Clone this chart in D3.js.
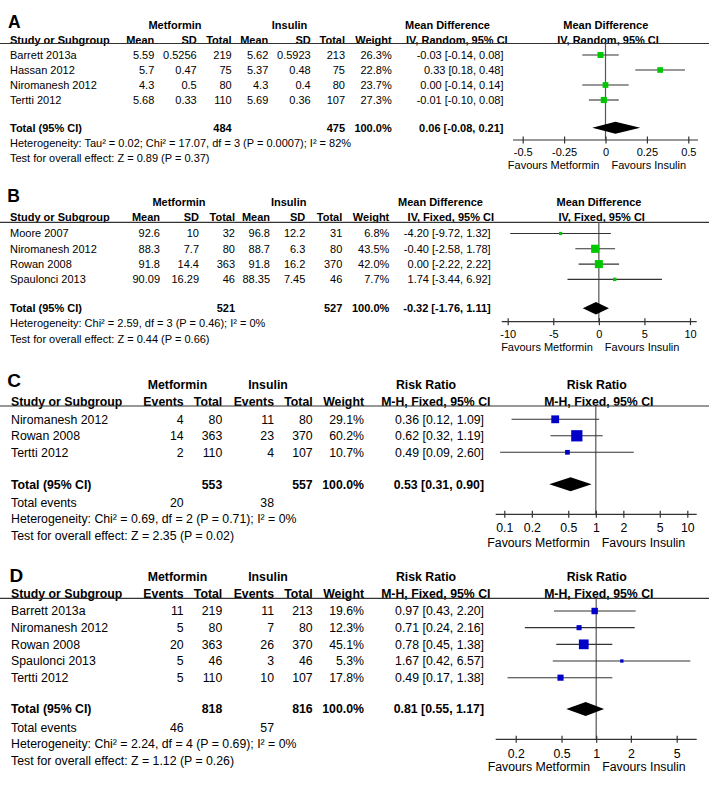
<!DOCTYPE html>
<html><head><meta charset="utf-8">
<script src="https://cdn.jsdelivr.net/npm/d3@7"></script>
<style>body{margin:0;background:#fff}svg{display:block}text{font-family:"Liberation Sans",Arial,sans-serif;fill:#000}</style>
</head><body><svg id="c" width="709" height="804"></svg>
<script>
// ---------- DATA ----------
// Panel A
const aStudies = ["Barrett 2013a","Hassan 2012","Niromanesh 2012","Tertti 2012"];
const aMetMean = [5.59,5.7,4.3,5.68];
const aMetSD   = [0.5256,0.47,0.5,0.33];
const aMetN    = [219,75,80,110];
const aInsMean = [5.62,5.37,4.3,5.69];
const aInsSD   = [0.5923,0.48,0.4,0.36];
const aInsN    = [213,75,80,107];
const aWeight  = [26.3,22.8,23.7,27.3];
const aEst     = [-0.03,0.33,0.00,-0.01];
const aLo      = [-0.14,0.18,-0.14,-0.10];
const aHi      = [0.08,0.48,0.14,0.08];
const aTotalN  = [484,475];
const aPooled  = [0.06,-0.08,0.21];
const aTicks   = [-0.5,-0.25,0,0.25,0.5];
const aTickLabels = ["-0.5","-0.25","0","0.25","0.5"];
const aHet  = "Heterogeneity: Tau² = 0.02; Chi² = 17.07, df = 3 (P = 0.0007); I² = 82%";
const aTest = "Test for overall effect: Z = 0.89 (P = 0.37)";
// Panel B
const bStudies = ["Moore 2007","Niromanesh 2012","Rowan 2008","Spaulonci 2013"];
const bMetMean = [92.6,88.3,91.8,90.09];
const bMetSD   = [10,7.7,14.4,16.29];
const bMetN    = [32,80,363,46];
const bInsMean = [96.8,88.7,91.8,88.35];
const bInsSD   = [12.2,6.3,16.2,7.45];
const bInsN    = [31,80,370,46];
const bWeight  = [6.8,43.5,42.0,7.7];
const bEst     = [-4.20,-0.40,0.00,1.74];
const bLo      = [-9.72,-2.58,-2.22,-3.44];
const bHi      = [1.32,1.78,2.22,6.92];
const bTotalN  = [521,527];
const bPooled  = [-0.32,-1.76,1.11];
const bTicks   = [-10,-5,0,5,10];
const bTickLabels = ["-10","-5","0","5","10"];
const bHet  = "Heterogeneity: Chi² = 2.59, df = 3 (P = 0.46); I² = 0%";
const bTest = "Test for overall effect: Z = 0.44 (P = 0.66)";
// Panel C
const cStudies = ["Niromanesh 2012","Rowan 2008","Tertti 2012"];
const cMetEv   = [4,14,2];
const cMetN    = [80,363,110];
const cInsEv   = [11,23,4];
const cInsN    = [80,370,107];
const cWeight  = [29.1,60.2,10.7];
const cEst     = [0.36,0.62,0.49];
const cLo      = [0.12,0.32,0.09];
const cHi      = [1.09,1.19,2.60];
const cTotalN  = [553,557];
const cTotalEv = [20,38];
const cPooled  = [0.53,0.31,0.90];
const cTicks   = [0.1,0.2,0.5,1,2,5,10];
const cTickLabels = ["0.1","0.2","0.5","1","2","5","10"];
const cHet  = "Heterogeneity: Chi² = 0.69, df = 2 (P = 0.71); I² = 0%";
const cTest = "Test for overall effect: Z = 2.35 (P = 0.02)";
// Panel D
const dStudies = ["Barrett 2013a","Niromanesh 2012","Rowan 2008","Spaulonci 2013","Tertti 2012"];
const dMetEv   = [11,5,20,5,5];
const dMetN    = [219,80,363,46,110];
const dInsEv   = [11,7,26,3,10];
const dInsN    = [213,80,370,46,107];
const dWeight  = [19.6,12.3,45.1,5.3,17.8];
const dEst     = [0.97,0.71,0.78,1.67,0.49];
const dLo      = [0.43,0.24,0.45,0.42,0.17];
const dHi      = [2.20,2.16,1.38,6.57,1.38];
const dTotalN  = [818,816];
const dTotalEv = [46,57];
const dPooled  = [0.81,0.55,1.17];
const dTicks   = [0.2,0.5,1,2,5];
const dTickLabels = ["0.2","0.5","1","2","5"];
const dHet  = "Heterogeneity: Chi² = 2.24, df = 4 (P = 0.69); I² = 0%";
const dTest = "Test for overall effect: Z = 1.12 (P = 0.26)";

// ---------- DRAWING ----------
const svg = d3.select("#c");
const f2 = v => v.toFixed(2);
const ciText = (e,l,h) => `${f2(e)} [${f2(l)}, ${f2(h)}]`;

function T(x,y,s,o={}){
  return svg.append("text").attr("x",x).attr("y",y).attr("dy","0.35em")
    .attr("text-anchor",o.anchor||"end").attr("font-size",o.fs||11)
    .attr("font-weight",o.bold?"bold":"normal").text(s);
}

function panel(cfg){
  const fs = cfg.fs;
  // panel letter
  svg.append("text").attr("x",cfg.letterX).attr("y",cfg.letterY)
    .attr("font-size",cfg.letterFs).attr("font-weight","bold").text(cfg.letter);
  // group headers
  T(cfg.metX,cfg.groupY,"Metformin",{anchor:"middle",bold:1,fs});
  T(cfg.insX,cfg.groupY,"Insulin",{anchor:"middle",bold:1,fs});
  T(cfg.effX1,cfg.groupY,cfg.effName,{anchor:"middle",bold:1,fs});
  T(cfg.effX2,cfg.groupY,cfg.effName,{anchor:"middle",bold:1,fs});
  T(cfg.effX1b,cfg.headY,cfg.method,{anchor:"middle",bold:1,fs});
  T(cfg.effX2b,cfg.headY,cfg.method,{anchor:"middle",bold:1,fs});
  // column headers
  T(cfg.studyX,cfg.headY,"Study or Subgroup",{anchor:"start",bold:1,fs});
  cfg.colHeads.forEach((h,i)=>T(cfg.cols[i],cfg.headY,h,{bold:1,fs}));
  T(cfg.weightX,cfg.headY,"Weight",{bold:1,fs});
  svg.append("line").attr("x1",0).attr("x2",709).attr("y1",cfg.lineY).attr("y2",cfg.lineY)
    .attr("stroke","#333").attr("stroke-width",1.2);
  // rows
  const rowY = i => cfg.row0 + i*cfg.rowStep;
  cfg.studies.forEach((s,i)=>{
    const y=rowY(i);
    T(cfg.studyX,y,s,{anchor:"start",fs});
    cfg.cells.forEach((arr,j)=>T(cfg.cols[j],y,String(arr[i]),{fs}));
    T(cfg.weightX,y,cfg.weight[i].toFixed(1)+"%",{fs});
    T(cfg.ciX,y,ciText(cfg.est[i],cfg.lo[i],cfg.hi[i]),{fs});
  });
  // total row
  T(cfg.studyX,cfg.totalY,"Total (95% CI)",{anchor:"start",bold:1,fs});
  T(cfg.cols[cfg.nMetCol],cfg.totalY,String(cfg.totalN[0]),{bold:1,fs});
  T(cfg.cols[cfg.nInsCol],cfg.totalY,String(cfg.totalN[1]),{bold:1,fs});
  T(cfg.weightX,cfg.totalY,"100.0%",{bold:1,fs});
  T(cfg.ciX,cfg.totalY,ciText(...cfg.pooled),{bold:1,fs});
  if(cfg.totalEv){
    T(cfg.studyX,cfg.evY,"Total events",{anchor:"start",fs});
    T(cfg.cols[0],cfg.evY,String(cfg.totalEv[0]),{fs});
    T(cfg.cols[2],cfg.evY,String(cfg.totalEv[1]),{fs});
  }
  T(cfg.studyX,cfg.hetY,cfg.het,{anchor:"start",fs});
  T(cfg.studyX,cfg.testY,cfg.test,{anchor:"start",fs});

  // forest plot
  const x = cfg.x;
  const sz = d3.scaleSqrt().domain([0,100]).range([0,cfg.maxSq]);
  svg.append("line").attr("x1",x(cfg.ref)).attr("x2",x(cfg.ref))
    .attr("y1",cfg.lineY).attr("y2",cfg.axisY).attr("stroke","#555").attr("stroke-width",1.2);
  const g = svg.append("g");
  cfg.studies.forEach((s,i)=>{
    const y=rowY(i);
    g.append("line").attr("x1",x(cfg.lo[i])).attr("x2",x(cfg.hi[i])).attr("y1",y).attr("y2",y)
      .attr("stroke","#333").attr("stroke-width",1.1);
    const w=sz(cfg.weight[i]);
    g.append("rect").attr("x",x(cfg.est[i])-w/2).attr("y",y-w/2).attr("width",w).attr("height",w)
      .attr("fill",cfg.color);
  });
  const [pe,pl,ph]=cfg.pooled, ty=cfg.totalY, dh=cfg.dh;
  g.append("polygon").attr("points",[[x(pl),ty],[x(pe),ty-dh],[x(ph),ty],[x(pe),ty+dh]].map(p=>p.join(",")).join(" "))
    .attr("fill","#000");
  // axis
  svg.append("line").attr("x1",cfg.axisX[0]).attr("x2",cfg.axisX[1]).attr("y1",cfg.axisY).attr("y2",cfg.axisY)
    .attr("stroke","#333").attr("stroke-width",1.2);
  const ax = svg.append("g").attr("transform",`translate(0,${cfg.axisY})`)
    .call(d3.axisBottom(x).tickValues(cfg.ticks).tickFormat((d,i)=>cfg.tickLabels[i]).tickSizeOuter(0));
  ax.select(".domain").remove();
  ax.selectAll(".tick line").attr("y1",-3.5).attr("y2",3.5).attr("stroke","#333").attr("stroke-width",1.2);
  ax.selectAll(".tick text").attr("y",cfg.tickDy).attr("dy","0.35em")
    .attr("font-size",fs).attr("font-family",'"Liberation Sans",Arial,sans-serif').attr("fill","#000");
  T(x(cfg.ref)-6,cfg.favY,"Favours Metformin",{fs});
  T(x(cfg.ref)+6,cfg.favY,"Favours Insulin",{anchor:"start",fs});
}

const GREEN="#00c800", BLUE="#0000c8";

panel({letter:"A",letterX:8,letterY:27.5,letterFs:17.5,fs:11,
  metX:175,insX:289.5,groupY:25,headY:39.7,lineY:43.5,studyX:10,
  effName:"Mean Difference",method:"IV, Random, 95% CI",effX1:447.5,effX2:605.8,effX1b:456.8,effX2b:608,
  colHeads:["Mean","SD","Total","Mean","SD","Total"],cols:[154.3,196.7,231.7,268.3,310.7,345],
  cells:[aMetMean,aMetSD,aMetN,aInsMean,aInsSD,aInsN],nMetCol:2,nInsCol:5,
  weightX:391.7,ciX:503.5,
  studies:aStudies,weight:aWeight,est:aEst,lo:aLo,hi:aHi,totalN:aTotalN,pooled:aPooled,
  row0:55,rowStep:15,totalY:127.7,hetY:143.3,testY:158.3,het:aHet,test:aTest,
  x:d3.scaleLinear().domain([-0.5,0.5]).range([522.7,688.3]),ref:0,color:GREEN,maxSq:11.8,dh:6,
  axisY:140,axisX:[513,698],ticks:aTicks,tickLabels:aTickLabels,tickDy:11.7,favY:165});

panel({letter:"B",letterX:7.3,letterY:201.7,letterFs:17.5,fs:11,
  metX:179,insX:288.7,groupY:201.7,headY:216.7,lineY:222.3,studyX:10,
  effName:"Mean Difference",method:"IV, Fixed, 95% CI",effX1:440.5,effX2:599,effX1b:450.8,effX2b:601.7,
  colHeads:["Mean","SD","Total","Mean","SD","Total"],cols:[160,199,235,270,305.3,342.3],
  cells:[bMetMean,bMetSD,bMetN,bInsMean,bInsSD,bInsN],nMetCol:2,nInsCol:5,
  weightX:389.3,ciX:490.7,
  studies:bStudies,weight:bWeight,est:bEst,lo:bLo,hi:bHi,totalN:bTotalN,pooled:bPooled,
  row0:233.5,rowStep:15.3,totalY:308.3,hetY:323.3,testY:339.5,het:bHet,test:bTest,
  x:d3.scaleLinear().domain([-10,10]).range([507.7,690]),ref:0,color:GREEN,maxSq:12.4,dh:6.2,
  axisY:321.7,axisX:[501.7,696.7],ticks:bTicks,tickLabels:bTickLabels,tickDy:12.3,favY:346.7});

panel({letter:"C",letterX:7.3,letterY:386.5,letterFs:19,fs:12.3,
  metX:177.5,insX:268,groupY:385,headY:401.7,lineY:406,studyX:11,
  effName:"Risk Ratio",method:"M-H, Fixed, 95% CI",effX1:426,effX2:596.7,effX1b:435.8,effX2b:598.8,
  colHeads:["Events","Total","Events","Total"],cols:[183.7,222.3,274,312.7],
  cells:[cMetEv,cMetN,cInsEv,cInsN],nMetCol:1,nInsCol:3,
  weightX:364,ciX:484,
  studies:cStudies,weight:cWeight,est:cEst,lo:cLo,hi:cHi,totalN:cTotalN,pooled:cPooled,totalEv:cTotalEv,
  row0:419.3,rowStep:16.5,totalY:484.3,evY:502.3,hetY:518.3,testY:535.5,het:cHet,test:cTest,
  x:d3.scaleLog().domain([0.1,10]).range([504.3,687.3]),ref:1,color:BLUE,maxSq:14.5,dh:7,
  axisY:514.3,axisX:[495.7,696.7],ticks:cTicks,tickLabels:cTickLabels,tickDy:13,favY:542.7});

panel({letter:"D",letterX:9.5,letterY:581.5,letterFs:19,fs:12.3,
  metX:177.5,insX:268,groupY:576.7,headY:593.3,lineY:598.3,studyX:11,
  effName:"Risk Ratio",method:"M-H, Fixed, 95% CI",effX1:426,effX2:596.7,effX1b:435.8,effX2b:598.8,
  colHeads:["Events","Total","Events","Total"],cols:[183.7,222.3,274,312.7],
  cells:[dMetEv,dMetN,dInsEv,dInsN],nMetCol:1,nInsCol:3,
  weightX:364,ciX:484,
  studies:dStudies,weight:dWeight,est:dEst,lo:dLo,hi:dHi,totalN:dTotalN,pooled:dPooled,totalEv:dTotalEv,
  row0:611,rowStep:16.67,totalY:709,evY:727.3,hetY:744,testY:760.7,het:dHet,test:dTest,
  x:d3.scaleLog().domain([0.2,5]).range([515.7,676.7]),ref:1,color:BLUE,maxSq:14.5,dh:7,
  axisY:739.3,axisX:[495.7,696.7],ticks:dTicks,tickLabels:dTickLabels,tickDy:14,favY:766.7});
</script></body></html>
